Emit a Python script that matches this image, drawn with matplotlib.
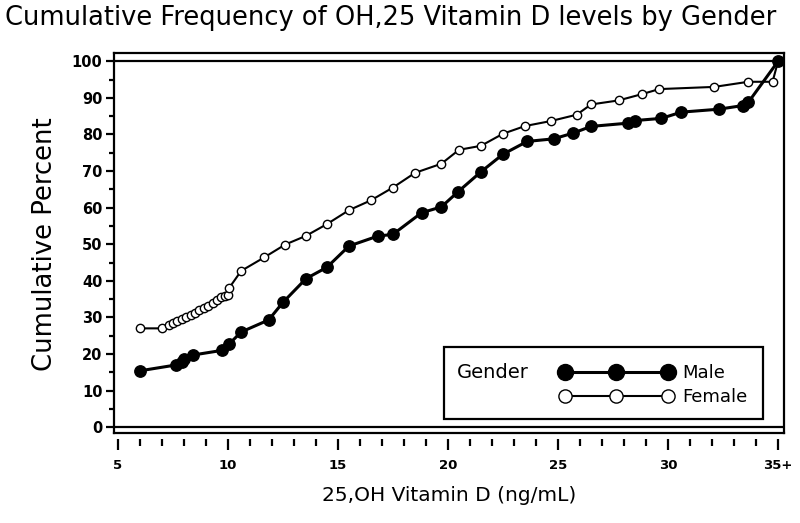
import matplotlib
matplotlib.use("Agg")
import matplotlib.pyplot as plt
from matplotlib.patches import Rectangle
from matplotlib.ticker import MultipleLocator, FixedLocator

# 25,OH Vitamin D (ng/mL) vs cumulative percent
male_x = [6.0, 7.65, 7.9, 8.0, 8.4, 9.75, 10.05, 10.6, 11.85, 12.5, 13.55, 14.5,
          15.5, 16.8, 17.5, 18.8, 19.7, 20.45, 21.5, 22.5, 23.6, 24.8, 25.7, 26.5,
          28.2, 28.5, 29.7, 30.6, 32.3, 33.4, 33.65, 35.0]
male_y = [15.4, 17.0, 17.8, 18.6, 19.7, 21.0, 22.7, 26.0, 29.3, 34.1, 40.6, 43.7,
          49.5, 52.2, 52.7, 58.6, 60.2, 64.3, 69.8, 74.6, 78.1, 78.8, 80.4, 82.2,
          83.1, 83.8, 84.4, 86.1, 86.9, 87.9, 88.8, 100.0]

female_x = [6.0, 7.0, 7.3, 7.5, 7.7, 7.9, 8.1, 8.3, 8.5, 8.7, 8.9, 9.1, 9.3, 9.5,
            9.7, 9.85, 10.0, 10.05, 10.6, 11.65, 12.6, 13.55, 14.5, 15.5, 16.5,
            17.5, 18.5, 19.7, 20.5, 21.5, 22.5, 23.5, 24.7, 25.85, 26.5, 27.75,
            28.8, 29.6, 32.1, 33.65, 34.75, 35.0]
female_y = [27.0, 27.0, 28.0, 28.6, 29.1, 29.6, 30.2, 30.7, 31.3, 31.9, 32.5, 33.2,
            34.0, 34.8, 35.5, 35.9, 36.2, 38.0, 42.7, 46.4, 49.9, 52.3, 55.5, 59.3,
            62.0, 65.5, 69.5, 72.0, 75.8, 76.9, 80.2, 82.3, 83.7, 85.4, 88.2, 89.3,
            91.0, 92.4, 93.0, 94.4, 94.4, 100.0]

x_ticks = [5, 10, 15, 20, 25, 30, 35]
x_tick_labels = ["5", "10", "15", "20", "25", "30", "35+"]
y_ticks = [0, 10, 20, 30, 40, 50, 60, 70, 80, 90, 100]

plt.rcParams["font.family"] = ["DejaVu Sans"]

fig = plt.figure(figsize=(8, 5.23), dpi=100)
ax = fig.add_axes([0.1419, 0.1721, 0.8381, 0.7275])

ax.plot(male_x, male_y, color="black", lw=2.2, marker="o", ms=8.2,
        mfc="black", mec="black", label="Male", zorder=4)
ax.plot(female_x, female_y, color="black", lw=1.5, marker="o", ms=6.0,
        mfc="white", mec="black", mew=1.0, label="Female", zorder=3)

# reference lines at 0 and 100
ax.axhline(0, color="black", lw=1.6, zorder=2)
ax.axhline(100, color="black", lw=1.6, zorder=2)

ax.set_xlim(4.8, 35.27)
ax.set_ylim(-1.6, 102.4)

ax.xaxis.set_major_locator(FixedLocator(x_ticks))
ax.xaxis.set_minor_locator(MultipleLocator(1))
ax.set_xticklabels(x_tick_labels)
ax.yaxis.set_major_locator(FixedLocator(y_ticks))
ax.yaxis.set_minor_locator(MultipleLocator(5))

for s in ax.spines.values():
    s.set_linewidth(1.6)
# x ticks hang a few pixels below the frame
ax.spines["bottom"].set_position(("outward", 4))
ax.spines["bottom"].set_color("none")
ax.plot([0, 1], [0, 0], transform=ax.transAxes, color="black", lw=1.6,
        clip_on=False, zorder=5)

ax.tick_params(axis="x", which="major", direction="out", length=8, width=1.6,
               pad=7, labelsize=9.5)
ax.tick_params(axis="x", which="minor", direction="out", length=5, width=1.6)
ax.tick_params(axis="y", which="major", direction="out", length=6, width=1.6,
               pad=2, labelsize=10.5)
ax.tick_params(axis="y", which="minor", direction="out", length=3.5, width=1.6)
for lab in ax.get_xticklabels() + ax.get_yticklabels():
    lab.set_fontweight("bold")

ax.set_xlabel("25,OH Vitamin D (ng/mL)", fontsize=14.5, labelpad=10)
fig.text(0.056, 0.533, "Cumulative Percent", rotation=90, fontsize=18.6,
         ha="center", va="center")
fig.text(0.4885, 0.965, "Cumulative Frequency of OH,25 Vitamin D levels by Gender",
         fontsize=18.5, ha="center", va="center")

# legend box with the Gender heading on its left
ax.add_patch(Rectangle((0.493, 0.037), 0.476, 0.189, transform=ax.transAxes,
                       fill=False, lw=1.6, ec="black", zorder=6))
ax.text(0.512, 0.16, "Gender", transform=ax.transAxes, fontsize=14,
        va="center", ha="left", zorder=7)
leg = ax.legend(loc="center left", bbox_to_anchor=(0.665, 0.126), frameon=False,
                numpoints=3, handlelength=6.3, handletextpad=0.5,
                labelspacing=0.35, fontsize=13, borderpad=0, borderaxespad=0)
for h, ms in zip(leg.legend_handles, [11.5, 9.5]):
    h.set_markersize(ms)

fig.savefig("out.png", dpi=100)
